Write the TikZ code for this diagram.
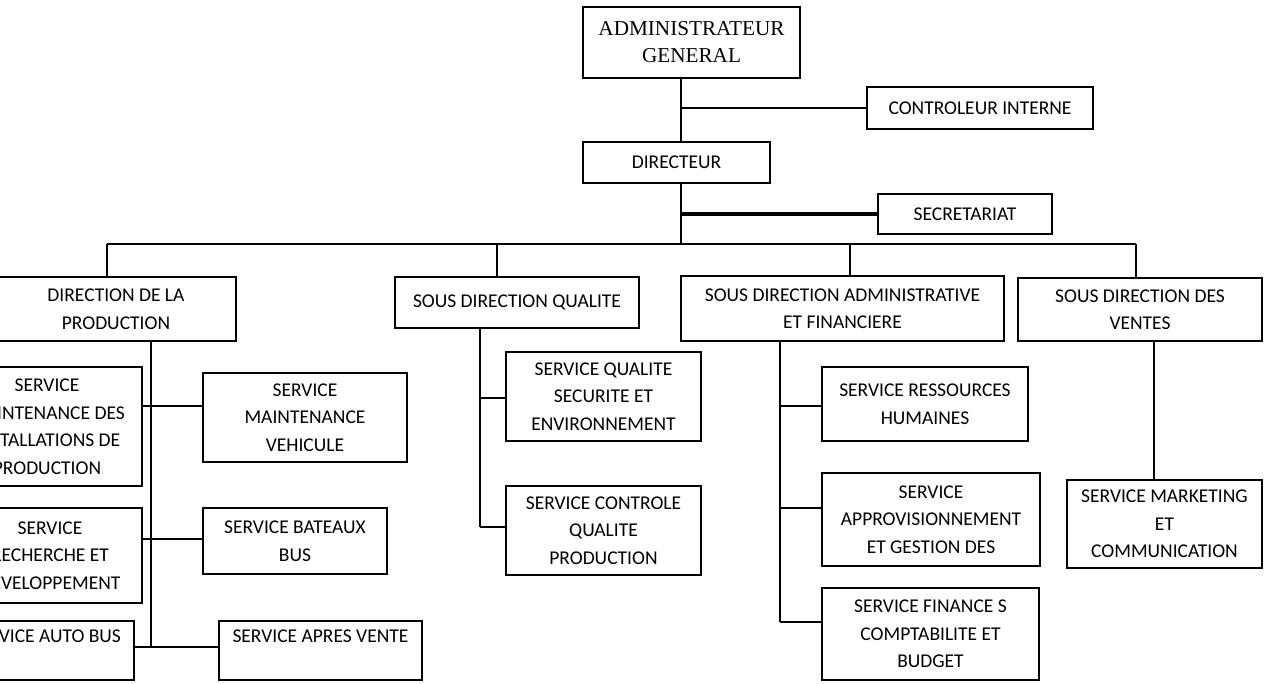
\documentclass[tikz,border=0pt]{standalone}
\usepackage{fontspec}
\setmainfont{Carlito}
\newfontfamily\timesfont{Liberation Serif}

\begin{document}
\begin{tikzpicture}[x=0.5pt,y=-0.5pt,line width=0.8pt,
  main node/.style={draw,align=center,inner sep=0pt,font=\fontsize{9.75}{13.75}\selectfont},
  head node/.style={main node,font=\timesfont\fontsize{10.6}{13.5}\selectfont},
  box size/.style 2 args={minimum width=#1*0.5pt,minimum height=#2*0.5pt}]
\useasboundingbox (0,0) rectangle (1266,684);
\clip (0,0) rectangle (1266,684);

% direction generale
\node[head node,box size={217}{71}] (1) at (691.5,42.5) {ADMINISTRATEUR\\GENERAL};
\node[main node,box size={226}{42}] (2) at (980,108) {CONTROLEUR INTERNE};
\node[main node,box size={187}{41}] (3) at (676.5,162.5) {DIRECTEUR};
\node[main node,box size={174}{40}] (4) at (965,214) {SECRETARIAT};

% directions
\node[main node,box size={240}{64}] (5) at (116,309) {DIRECTION DE LA\\PRODUCTION};
\node[main node,box size={244}{51}] (6) at (517,302.5) {SOUS DIRECTION QUALITE};
\node[main node,box size={323}{65}] (7) at (842.5,308.5) {SOUS DIRECTION ADMINISTRATIVE\\ET FINANCIERE};
\node[main node,box size={244}{63}] (8) at (1140,309.5) {SOUS DIRECTION DES\\VENTES};

% services production
\node[main node,box size={190}{119}] (9) at (47,426.5) {SERVICE\\MAINTENANCE DES\\INSTALLATIONS DE\\PRODUCTION};
\node[main node,box size={204}{89}] (10) at (305,417.5) {SERVICE\\MAINTENANCE\\VEHICULE};
\node[main node,box size={184}{95}] (11) at (50,555.5) {SERVICE\\RECHERCHE ET\\DEVELOPPEMENT};
\node[main node,box size={184}{66}] (12) at (295,541) {SERVICE BATEAUX\\BUS};
\node[main node,box size={177}{59}] (13) at (45.5,650.5) {SERVICE AUTO BUS\\[-4pt]\strut};
\node[main node,box size={203}{59}] (14) at (320.5,650.5) {SERVICE APRES VENTE\\[-4pt]\strut};

% services qualite
\node[main node,box size={195}{89}] (15) at (603.5,396.5) {SERVICE QUALITE\\SECURITE ET\\ENVIRONNEMENT};
\node[main node,box size={195}{89}] (16) at (603.5,530.5) {SERVICE CONTROLE\\QUALITE\\PRODUCTION};

% services administratifs et ventes
\node[main node,box size={206}{74}] (17) at (925,404) {SERVICE RESSOURCES\\HUMAINES};
\node[main node,box size={218}{93}] (18) at (931,519.5) {SERVICE\\APPROVISIONNEMENT\\ET GESTION DES};
\node[main node,box size={217}{92}] (19) at (930.5,634) {SERVICE FINANCE S\\COMPTABILITE ET\\BUDGET};
\node[main node,box size={195}{88}] (20) at (1164.5,524) {SERVICE MARKETING\\ET\\COMMUNICATION};

% points de jonction
\coordinate (b0) at (681,244);
\coordinate (b1) at (107,244);
\coordinate (b2) at (497,244);
\coordinate (b3) at (850,244);
\coordinate (b4) at (1136,244);
\coordinate (p) at (151,647);
\coordinate (q) at (480,527);
\coordinate (a) at (780,622);
\coordinate (v) at (1154,400);

\path (1.south -| b0) edge (3.north -| b0)
      (3.south -| b0) edge (b0)
      (2.west) edge (2.west -| b0)
      (b1) edge (b4)
      (b1) edge (b1 |- 5.north)
      (b2) edge (b2 |- 6.north)
      (b3) edge (b3 |- 7.north)
      (b4) edge (b4 |- 8.north);
\draw[line width=1.6pt] (4.west) -- (4.west -| b0);

\path (p |- 5.south) edge (p)
      (9.east |- 0,406) edge (10.west |- 0,406)
      (11.east |- 0,539) edge (12.west |- 0,539)
      (13.east |- p) edge (14.west |- p);

\path (q |- 6.south) edge (q)
      (q |- 0,398) edge (15.west |- 0,398)
      (q) edge (16.west |- q);

\path (a |- 7.south) edge (a)
      (a |- 0,406) edge (17.west |- 0,406)
      (a |- 0,508) edge (18.west |- 0,508)
      (a) edge (19.west |- a)
      (v |- 8.south) edge (v |- 20.north);
\end{tikzpicture}
\end{document}
